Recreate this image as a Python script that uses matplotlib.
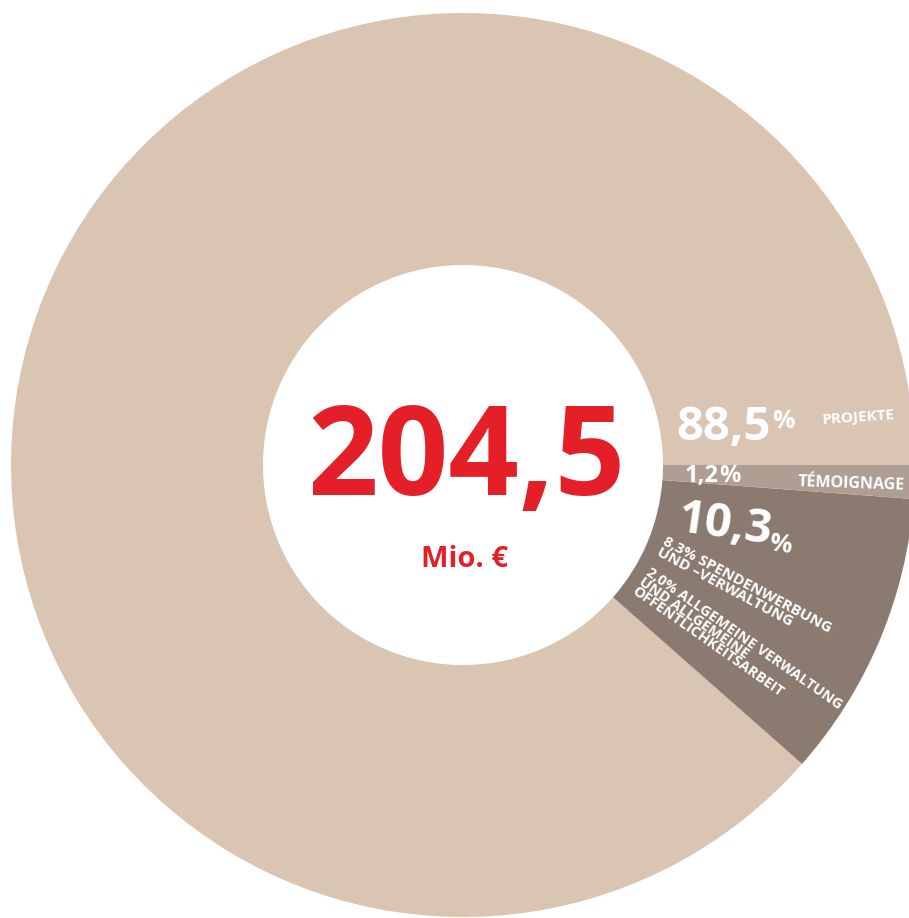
import matplotlib
matplotlib.use("Agg")
import matplotlib.pyplot as plt

# shares of total spending (percent), drawn counter-clockwise from 3 o'clock
categories = ["Projekte", "Spendenwerbung / Verwaltung", "Témoignage"]
shares = [88.5, 10.3, 1.2]
colors = ["#DAC5B2", "#8B7A70", "#AE9E93"]

total_label = "204,5"
unit_label = "Mio. €"

plt.rcParams['font.family'] = ['Open Sans', 'DejaVu Sans']

W, H = 909, 918
fig = plt.figure(figsize=(W / 100, H / 100), dpi=100)
ax = fig.add_axes([0, 0, 1, 1])

cx, cy = 463, H - 465
R, r = 452, 200
ax.pie(shares, colors=colors, startangle=0, counterclock=True,
       radius=R, center=(cx, cy),
       wedgeprops=dict(width=R - r, linewidth=0))
ax.set_xlim(0, W)
ax.set_ylim(0, H)
ax.set_aspect('equal')
ax.axis('off')

red = "#E51F28"
ax.text(466, H - 495, total_label, color=red, fontsize=89, fontweight='bold',
        ha='center', va='baseline')
ax.text(465, H - 567, unit_label, color=red, fontsize=21, fontweight='bold',
        ha='center', va='baseline')

white = "white"
# Projekte
ax.text(676, H - 440, "88,5", color=white, fontsize=34, fontweight='bold',
        ha='left', va='baseline')
ax.text(772, H - 428, "%", color=white, fontsize=18, fontweight='bold',
        ha='left', va='baseline')
ax.text(822, H - 424, "PROJEKTE", color=white, fontsize=11, fontweight='bold',
        ha='left', va='baseline', rotation=4, rotation_mode='anchor')

# Témoignage
ax.text(685, H - 482, "1,2", color=white, fontsize=17, fontweight='bold',
        ha='left', va='baseline')
ax.text(719, H - 482, "%", color=white, fontsize=17, fontweight='bold',
        ha='left', va='baseline')
ax.text(798, H - 486, "TÉMOIGNAGE", color=white, fontsize=11.5, fontweight='bold',
        ha='left', va='baseline', rotation=-2, rotation_mode='anchor')

# Spendenwerbung / Verwaltung
ax.text(676, H - 531, "10,3", color=white, fontsize=34, fontweight='bold',
        ha='left', va='baseline', rotation=-8, rotation_mode='anchor')
ax.text(768, H - 550, "%", color=white, fontsize=18, fontweight='bold',
        ha='left', va='baseline', rotation=-8, rotation_mode='anchor')
ax.text(667, H - 535, "8,3% SPENDENWERBUNG\nUND –VERWALTUNG", color=white,
        fontsize=11, fontweight='bold', ha='left', va='top', linespacing=0.8,
        rotation=-28, rotation_mode='anchor')
ax.text(651, H - 565, "2,0% ALLGEMEINE VERWALTUNG\nUND ALLGEMEINE\nÖFFENTLICHKEITSARBEIT",
        color=white, fontsize=10.5, fontweight='bold', ha='left', va='top',
        linespacing=0.8, rotation=-35, rotation_mode='anchor')

fig.savefig("out.png", dpi=100)
